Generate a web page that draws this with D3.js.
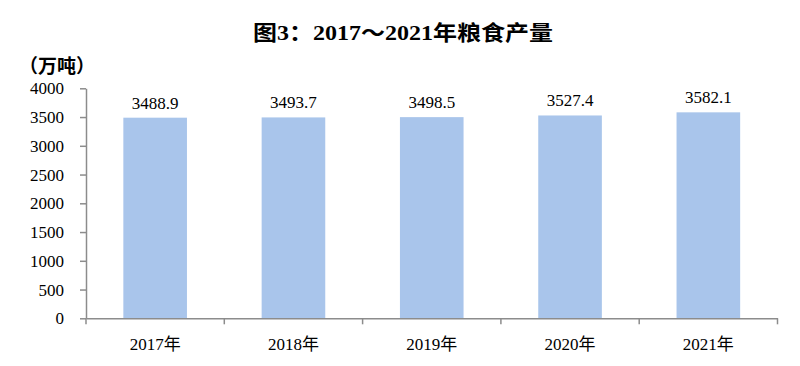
<!DOCTYPE html>
<html>
<head>
<meta charset="utf-8">
<script src="https://cdn.jsdelivr.net/npm/d3@7"></script>
<style>
  body { margin: 0; background: #fff; }
  text { font-family: "Liberation Serif", "Noto Sans CJK SC", serif; }
</style>
</head>
<body>
<svg id="chart" width="800" height="366"></svg>
<script>
var years = ["2017年", "2018年", "2019年", "2020年", "2021年"];
var output = [3488.9, 3493.7, 3498.5, 3527.4, 3582.1];
var yTicks = [0, 500, 1000, 1500, 2000, 2500, 3000, 3500, 4000];

var svg = d3.select("#chart");

var x = d3.scaleBand()
    .domain(years)
    .range([86, 777.5])
    .paddingInner(0.54)
    .paddingOuter(0.27);

var y = d3.scaleLinear()
    .domain([0, 4000])
    .range([318.3, 88.3]);

// title
svg.append("text")
    .attr("x", 253)
    .attr("y", 40)
    .attr("textLength", 300)
    .attr("lengthAdjust", "spacingAndGlyphs")
    .style("font-size", "21px")
    .style("font-weight", "bold")
    .text("图3：2017～2021年粮食产量");

// unit
svg.append("text")
    .attr("x", 19)
    .attr("y", 73)
    .style("font-size", "19px")
    .style("font-weight", "bold")
    .style("font-family", "Noto Sans CJK SC")
    .text("（万吨）");

// bars
svg.selectAll("rect.bar")
    .data(output)
    .enter().append("rect")
    .attr("class", "bar")
    .attr("x", function(d, i) { return x(years[i]); })
    .attr("width", x.bandwidth())
    .attr("y", function(d) { return y(d); })
    .attr("height", function(d) { return y(0) - y(d); })
    .style("fill", "#a9c5eb");

// value labels
svg.selectAll("text.val")
    .data(output)
    .enter().append("text")
    .attr("class", "val")
    .attr("x", function(d, i) { return x(years[i]) + x.bandwidth() / 2; })
    .attr("y", function(d) { return y(d) - 9; })
    .attr("text-anchor", "middle")
    .style("font-size", "17px")
    .text(function(d) { return d.toFixed(1); });

// y axis
var yAxis = svg.append("g")
    .attr("transform", "translate(86,0)")
    .call(d3.axisLeft(y).tickValues(yTicks).tickFormat(d3.format("d"))
        .tickSize(6).tickPadding(16).tickSizeOuter(0));
yAxis.selectAll("text").style("font-size", "17px").style("fill", "#000");

// x axis
var xAxis = svg.append("g")
    .attr("transform", "translate(0,318.3)")
    .call(d3.axisBottom(x).tickSize(0).tickPadding(20).tickSizeOuter(0));
xAxis.selectAll("text").style("font-size", "17px").style("fill", "#000");

// category boundary ticks
var bounds = years.map(function(c) { return x(c) - x.step() * x.paddingInner() / 2; });
bounds.push(777.5);
xAxis.selectAll("line.bound")
    .data(bounds)
    .enter().append("line")
    .attr("class", "bound")
    .attr("x1", function(d) { return d; })
    .attr("x2", function(d) { return d; })
    .attr("y1", 0)
    .attr("y2", 6);

svg.selectAll(".domain, .tick line, line.bound")
    .style("stroke", "#8c8c8c")
    .style("stroke-width", 1.5);
</script>
</body>
</html>
